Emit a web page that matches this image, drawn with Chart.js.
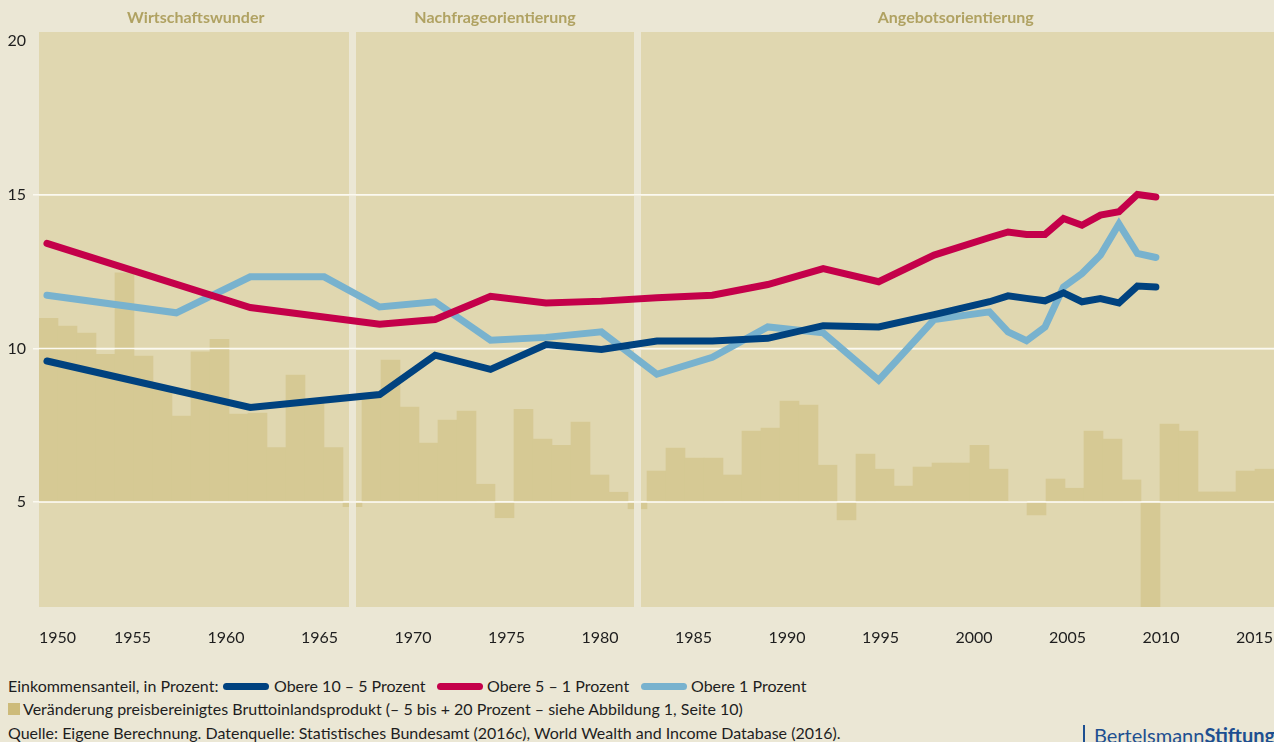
<!DOCTYPE html>
<html lang="de">
<head>
<meta charset="utf-8">
<title>Einkommensanteile Deutschland</title>
<script src="https://cdn.jsdelivr.net/npm/chart.js@4/dist/chart.umd.min.js"></script>
<style>
  html, body { margin: 0; padding: 0; background: #ebe7d5; }
  body { width: 1274px; height: 742px; position: relative; overflow: hidden;
         font-family: Lato, "Open Sans", sans-serif; color: #1e1e1e; }
  #chartBox { position: absolute; left: 0; top: 0; width: 1274px; height: 650px; }
  .row { position: absolute; font-size: 16px; line-height: 18px; white-space: nowrap; }
  .sw { position: absolute; width: 46px; height: 7px; border-radius: 4px; }
  .sq { position: absolute; left: 8px; top: 703px; width: 12px; height: 12px; background: #cdbb7a; }
  .logo { position: absolute; left: 1083px; top: 725px; border-left: 2px solid #1d4f91;
          padding-left: 9px; font-size: 20px; line-height: 20px; color: #1d4f91; white-space: nowrap; }
  .logo b { font-weight: 700; }
</style>
</head>
<body>
<div id="chartBox"><canvas id="chart" width="1274" height="650"></canvas></div>

<div class="row" style="left:8px; top:677px">Einkommensanteil, in Prozent:</div>
<span class="sw" style="left:223px; top:683px; background:#00427f"></span>
<div class="row" style="left:274px; top:677px">Obere 10 – 5 Prozent</div>
<span class="sw" style="left:437px; top:683px; background:#c4004a"></span>
<div class="row" style="left:487px; top:677px">Obere 5 – 1 Prozent</div>
<span class="sw" style="left:641px; top:683px; background:#78b2ce"></span>
<div class="row" style="left:691px; top:677px">Obere 1 Prozent</div>

<span class="sq"></span>
<div class="row" style="left:23px; top:700px">Veränderung preisbereinigtes Bruttoinlandsprodukt (– 5 bis + 20 Prozent – siehe Abbildung 1, Seite 10)</div>
<div class="row" style="left:8px; top:724px">Quelle: Eigene Berechnung. Datenquelle: Statistisches Bundesamt (2016c), World Wealth and Income Database (2016).</div>
<div class="logo">Bertelsmann<b>Stiftung</b></div>

<script>
// x axis labels
const labelYears = [1950, 1955, 1960, 1965, 1970, 1975, 1980, 1985, 1990, 1995, 2000, 2005, 2010, 2015];
const yTicks = [5, 10, 15, 20];

// periods and the years where they break
const periods = ['Wirtschaftswunder', 'Nachfrageorientierung', 'Angebotsorientierung'];
const periodBreaks = [1967, 1982];

// income shares (percent)
const lineYears = [1950, 1957, 1961, 1965, 1968, 1971, 1974, 1977, 1980, 1983, 1986, 1989, 1992,
                   1995, 1998, 2001, 2002, 2003, 2004, 2005, 2006, 2007, 2008, 2009, 2010];
const top10to5 = [9.59, null, 8.08, null, 8.50, 9.78, 9.32, 10.13, 9.97, 10.24, 10.24, 10.33, 10.74,
                  10.70, 11.10, 11.52, 11.71, 11.63, 11.55, 11.81, 11.52, 11.62, 11.48, 12.03, 12.00];
const top5to1 = [13.42, null, 11.33, null, 10.79, 10.94, 11.70, 11.48, 11.54, 11.65, 11.73, 12.08, 12.60,
                 12.17, 13.04, 13.61, 13.79, 13.71, 13.71, 14.23, 14.01, 14.34, 14.45, 15.01, 14.93];
const top1 = [11.73, 11.16, 12.33, 12.33, 11.35, 11.52, 10.27, 10.36, 10.54, 9.16, 9.71, 10.70, 10.51,
              8.97, 10.94, 11.19, 10.54, 10.25, 10.70, 12.00, 12.44, 13.04, 14.05, 13.09, 12.96];

// GDP change, drawn on the same axis (baseline at 5)
const gdpYears = [1951, 1952, 1953, 1954, 1955, 1956, 1957, 1958, 1959, 1960,
                  1961, 1962, 1963, 1964, 1965, 1966, 1967, 1968, 1969, 1970,
                  1971, 1972, 1973, 1974, 1975, 1976, 1977, 1978, 1979, 1980,
                  1981, 1982, 1983, 1984, 1985, 1986, 1987, 1988, 1989, 1990,
                  1991, 1992, 1993, 1994, 1995, 1996, 1997, 1998, 1999, 2000,
                  2001, 2002, 2003, 2004, 2005, 2006, 2007, 2008, 2009, 2010,
                  2011, 2012, 2013, 2014, 2015];
const gdpBars = [10.98, 10.73, 10.50, 9.81, 12.46, 9.75, 8.70, 7.80, 9.89, 10.30,
                 7.86, 7.90, 6.77, 9.13, 8.30, 6.77, 4.85, 8.45, 9.62, 8.09,
                 6.92, 7.67, 7.96, 5.58, 4.49, 8.02, 7.05, 6.85, 7.60, 5.88,
                 5.32, 4.78, 6.01, 6.76, 6.43, 6.43, 5.88, 7.31, 7.41, 8.29,
                 8.16, 6.20, 4.42, 6.56, 6.07, 5.52, 6.14, 6.27, 6.27, 6.85,
                 6.07, 5.02, 4.58, 5.75, 5.45, 7.31, 7.05, 5.72, 1.20, 7.54,
                 7.31, 5.33, 5.33, 6.01, 6.07];

const PAGE = '#ebe7d5';
const BAND = '#e0d7b0';
const BAR = '#d6c994';
const GRID = '#fbf9f0';
const TITLE = '#b0a262';

function pts(xs, ys) {
  return xs.map((x, i) => ({ x: x, y: ys[i] }));
}

function lineSet(label, values, color, order) {
  return {
    type: 'line',
    label: label,
    data: pts(lineYears, values),
    xAxisID: 'xLine',
    borderColor: color,
    backgroundColor: color,
    borderWidth: 7,
    borderCapStyle: 'round',
    borderJoinStyle: 'miter',
    pointRadius: 0,
    tension: 0,
    spanGaps: true,
    order: order
  };
}

// band background, period titles, gaps over the bars and white grid lines
const backdrop = {
  id: 'backdrop',
  beforeDraw(chart) {
    const { ctx, chartArea: a, scales } = chart;
    ctx.save();
    ctx.fillStyle = BAND;
    ctx.fillRect(a.left, a.top, a.right - a.left, a.bottom - a.top);
    const edges = [a.left].concat(periodBreaks.map(v => scales.xBar.getPixelForValue(v)), [a.right]);
    ctx.font = 'bold 16px Lato';
    ctx.fillStyle = TITLE;
    ctx.textAlign = 'center';
    ctx.textBaseline = 'middle';
    periods.forEach((p, i) => ctx.fillText(p, (edges[i] + edges[i + 1]) / 2, 18));
    ctx.restore();
  },
  afterDatasetDraw(chart, args) {
    if (args.meta.type !== 'bar') return;
    const { ctx, chartArea: a, scales } = chart;
    ctx.save();
    ctx.fillStyle = PAGE;
    periodBreaks.forEach(v => {
      const px = scales.xBar.getPixelForValue(v);
      ctx.fillRect(px - 3.5, a.top, 7, a.bottom - a.top);
    });
    ctx.strokeStyle = GRID;
    ctx.lineWidth = 1.5;
    [5, 10, 15].forEach(v => {
      const py = scales.y.getPixelForValue(v);
      ctx.beginPath();
      ctx.moveTo(a.left, py);
      ctx.lineTo(a.right, py);
      ctx.stroke();
    });
    ctx.restore();
  }
};

new Chart(document.getElementById('chart'), {
  data: {
    datasets: [
      lineSet('Obere 10 – 5 Prozent', top10to5, '#00427f', 1),
      lineSet('Obere 5 – 1 Prozent', top5to1, '#c4004a', 2),
      lineSet('Obere 1 Prozent', top1, '#78b2ce', 3),
      {
        type: 'bar',
        label: 'Veränderung preisbereinigtes Bruttoinlandsprodukt',
        data: pts(gdpYears, gdpBars),
        xAxisID: 'xBar',
        base: 5,
        backgroundColor: BAR,
        borderWidth: 0,
        grouped: false,
        barPercentage: 1,
        categoryPercentage: 1,
        order: 4
      }
    ]
  },
  options: {
    responsive: false,
    animation: false,
    layout: { padding: { top: 32, left: 0, right: 0, bottom: 0 } },
    plugins: { legend: { display: false }, tooltip: { enabled: false } },
    scales: {
      x: {
        type: 'linear',
        position: 'bottom',
        min: 1950,
        max: 2016.04,
        grid: { display: false },
        border: { display: false },
        afterBuildTicks: s => { s.ticks = labelYears.map(v => ({ value: v })).concat([{ value: s.max }]); },
        afterFit: s => { s.height = 43; s.paddingLeft = 0; s.paddingRight = 0; },
        ticks: {
          align: 'inner',
          autoSkip: false,
          maxRotation: 0,
          padding: 13,
          color: '#1e1e1e',
          font: { family: 'Lato', size: 16 },
          callback: v => labelYears.includes(v) ? String(v) : ''
        }
      },
      xLine: { type: 'linear', display: false, min: 1949.57, max: 2016.39 },
      xBar: { type: 'linear', display: false, min: 1950.5, max: 2015.5, offset: false, grid: { offset: false } },
      y: {
        type: 'linear',
        min: 1.584,
        max: 20.30,
        afterBuildTicks: s => { s.ticks = yTicks.map(v => ({ value: v })); },
        afterFit: s => { s.width = 39; },
        border: { display: false },
        grid: {
          color: c => c.tick && c.tick.value === 20 ? 'rgba(0,0,0,0)' : GRID,
          lineWidth: 1.5,
          drawTicks: true,
          tickLength: 6
        },
        ticks: {
          padding: 7,
          color: '#1e1e1e',
          font: { family: 'Lato', size: 16 },
          callback: v => String(v)
        }
      }
    }
  },
  plugins: [backdrop]
});
</script>
</body>
</html>
